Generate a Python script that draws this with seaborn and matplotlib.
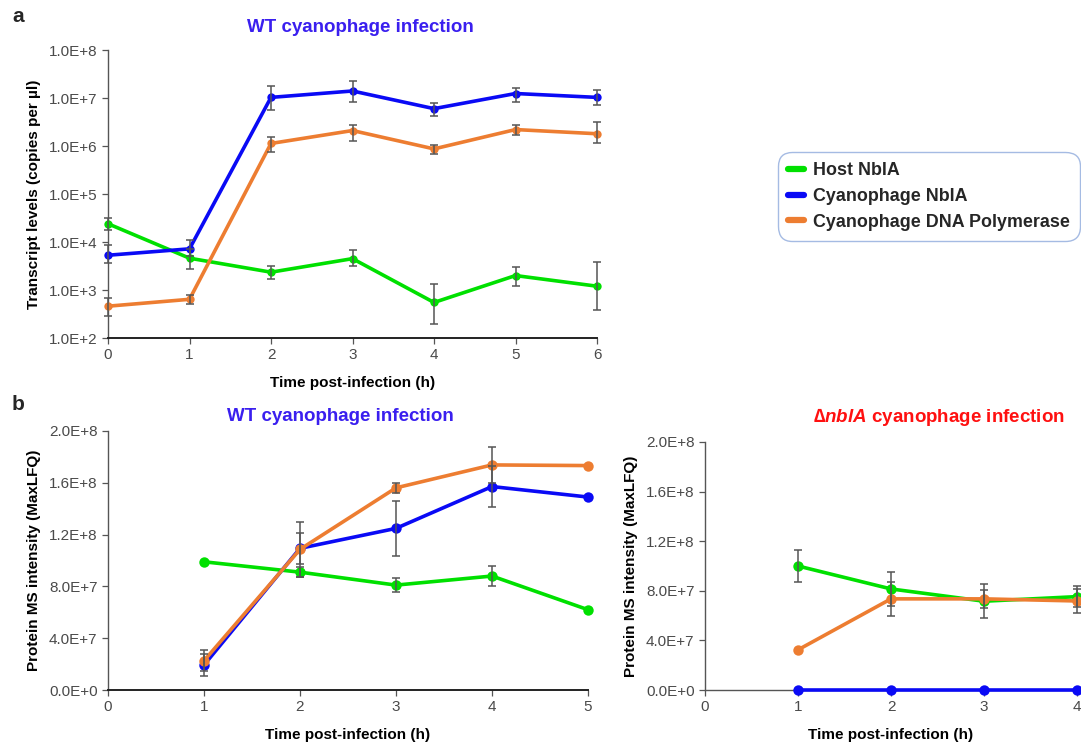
import numpy as np
import pandas as pd
import matplotlib
matplotlib.use("Agg")
import matplotlib.pyplot as plt
from matplotlib.lines import Line2D
import seaborn as sns

# ---------------- data ----------------
series = ["Host NblA", "Cyanophage NblA", "Cyanophage DNA Polymerase"]
colors = ["#00E000", "#0A0AF5", "#ED7D31"]

# panel a: transcript levels (copies per ul)
time_a = [0, 1, 2, 3, 4, 5, 6]
host_a = [2.4e4, 4.6e3, 2.35e3, 4.5e3, 5.5e2, 2.0e3, 1.2e3]
host_a_lo = [1.8e4, 2.8e3, 1.66e3, 3.1e3, 2.0e2, 1.2e3, 3.9e2]
host_a_hi = [3.2e4, 7.0e3, 3.2e3, 6.7e3, 1.35e3, 3.0e3, 3.8e3]
phage_a = [5.3e3, 7.2e3, 1.03e7, 1.4e7, 6.0e6, 1.24e7, 1.03e7]
phage_a_lo = [3.6e3, 5.0e3, 5.6e6, 8.3e6, 4.2e6, 8.3e6, 7.1e6]
phage_a_hi = [8.5e3, 1.1e4, 1.8e7, 2.25e7, 7.8e6, 1.65e7, 1.5e7]
pol_a = [4.6e2, 6.4e2, 1.13e6, 2.1e6, 8.7e5, 2.2e6, 1.8e6]
pol_a_lo = [2.9e2, 5.2e2, 7.6e5, 1.3e6, 6.8e5, 1.7e6, 1.13e6]
pol_a_hi = [6.8e2, 8.0e2, 1.56e6, 2.78e6, 1.07e6, 2.76e6, 3.1e6]
xticks_a = ["0", "1", "2", "3", "4", "5", "6"]
yticks_a = ["1.0E+2", "1.0E+3", "1.0E+4", "1.0E+5", "1.0E+6", "1.0E+7", "1.0E+8"]

# panel b left: WT protein MS intensity
time_b = [1, 2, 3, 4, 5]
host_b = [9.9e7, 9.1e7, 8.1e7, 8.8e7, 6.2e7]
host_b_sd = [np.nan, 0.4e7, 0.55e7, 0.77e7, np.nan]
phage_b = [1.93e7, 1.094e8, 1.248e8, 1.571e8, 1.49e8]
phage_b_sd = [0.88e7, 1.2e7, 2.15e7, 1.55e7, np.nan]
pol_b = [2.26e7, 1.086e8, 1.561e8, 1.738e8, 1.733e8]
pol_b_sd = [0.8e7, 2.1e7, 0.4e7, 1.4e7, np.nan]
xticks_b = ["0", "1", "2", "3", "4", "5"]

# panel b right: delta nblA protein MS intensity
time_c = [1, 2, 3, 4]
host_c = [1.0e8, 8.15e7, 7.16e7, 7.53e7]
host_c_sd = [1.27e7, 1.4e7, 1.38e7, 0.87e7]
phage_c = [0.0, 0.0, 0.0, 0.0]
phage_c_sd = [np.nan, np.nan, np.nan, np.nan]
pol_c = [3.24e7, 7.35e7, 7.35e7, 7.18e7]
pol_c_sd = [np.nan, 1.35e7, 0.75e7, 1.0e7]
xticks_c = ["0", "1", "2", "3", "4"]

yticks_b = ["0.0E+0", "4.0E+7", "8.0E+7", "1.2E+8", "1.6E+8", "2.0E+8"]

# ---------------- style ----------------
sns.set_theme(style="ticks")
plt.rcParams["font.family"] = ["Liberation Sans", "DejaVu Sans"]
plt.rcParams["mathtext.fontset"] = "custom"
plt.rcParams["mathtext.bfit"] = "Liberation Sans:italic:bold"
plt.rcParams["mathtext.it"] = "Liberation Sans:italic"
plt.rcParams["mathtext.bf"] = "Liberation Sans:bold"

W, H = 1081, 744
fig = plt.figure(figsize=(W / 100, H / 100), dpi=100)
fig.patch.set_facecolor("white")


def px_axes(x0, y0, x1, y1):
    return fig.add_axes([x0 / W, 1 - y1 / H, (x1 - x0) / W, (y1 - y0) / H])


TICK_COLOR = "#4a4a4a"


def style_axes(ax):
    sns.despine(ax=ax)
    ax.spines["left"].set_color("#555555")
    ax.spines["left"].set_linewidth(1.0)
    ax.spines["bottom"].set_color("#222222")
    ax.spines["bottom"].set_linewidth(1.4)
    ax.tick_params(axis="both", direction="out", length=4, width=0.9,
                   colors="#555555", labelcolor=TICK_COLOR, labelsize=11)
    ax.set_facecolor("white")
    ax.grid(False)


def draw_lines(ax, t, vals, errs, lw, ms):
    rows = []
    for s, v in zip(series, vals):
        for ti, vi in zip(t, v):
            rows.append({"time": ti, "value": vi, "series": s})
    df = pd.DataFrame(rows)
    sns.lineplot(data=df, x="time", y="value", hue="series", hue_order=series,
                 palette=colors, marker="o", markersize=ms, markeredgewidth=0,
                 linewidth=lw, estimator=None, legend=False, ax=ax,
                 clip_on=False, zorder=3)
    for v, e in zip(vals, errs):
        ax.errorbar(t, v, yerr=e, fmt="none", ecolor="#555555", elinewidth=1.1,
                    capsize=3.2, capthick=1.1, clip_on=False, zorder=5)


# ---------- panel a ----------
axa = px_axes(108, 50, 597, 338)
axa.set_yscale("log")
errs_a = [
    [np.array(host_a) - np.array(host_a_lo), np.array(host_a_hi) - np.array(host_a)],
    [np.array(phage_a) - np.array(phage_a_lo), np.array(phage_a_hi) - np.array(phage_a)],
    [np.array(pol_a) - np.array(pol_a_lo), np.array(pol_a_hi) - np.array(pol_a)],
]
draw_lines(axa, time_a, [host_a, phage_a, pol_a], errs_a, lw=2.6, ms=6)
axa.set_xlim(0, 6)
axa.set_ylim(1e2, 1e8)
axa.set_xticks(time_a)
axa.set_xticklabels(xticks_a)
axa.set_yticks([10.0 ** k for k in range(2, 9)])
axa.set_yticklabels(yticks_a)
axa.yaxis.set_minor_locator(matplotlib.ticker.NullLocator())
style_axes(axa)
axa.set_xlabel("Time post-infection (h)", fontsize=11, fontweight="bold",
               color="black", labelpad=10)
axa.set_ylabel("Transcript levels (copies per µl)", fontsize=11,
               fontweight="bold", color="black", labelpad=6)
fig.text(360 / W, 1 - 28 / H, "WT cyanophage infection", ha="center",
         va="center", fontsize=13.5, fontweight="bold", color="#3A1FEF")

# ---------- panel b left ----------
axb = px_axes(108, 431, 588, 690)
draw_lines(axb, time_b, [host_b, phage_b, pol_b],
           [host_b_sd, phage_b_sd, pol_b_sd], lw=2.6, ms=7.5)
axb.set_xlim(0, 5)
axb.set_ylim(0, 2e8)
axb.set_xticks(range(len(xticks_b)))
axb.set_xticklabels(xticks_b)
axb.set_yticks(np.linspace(0, 2e8, 6))
axb.set_yticklabels(yticks_b)
style_axes(axb)
axb.set_xlabel("Time post-infection (h)", fontsize=11, fontweight="bold",
               color="black", labelpad=10)
axb.set_ylabel("Protein MS intensity (MaxLFQ)", fontsize=11,
               fontweight="bold", color="black", labelpad=6)
fig.text(340 / W, 1 - 417 / H, "WT cyanophage infection", ha="center",
         va="center", fontsize=13.5, fontweight="bold", color="#3A1FEF")

# ---------- panel b right ----------
axc = px_axes(705, 442, 1077, 690)
draw_lines(axc, time_c, [host_c, phage_c, pol_c],
           [host_c_sd, phage_c_sd, pol_c_sd], lw=2.6, ms=7.5)
axc.set_xlim(0, 4)
axc.set_ylim(0, 2e8)
axc.set_xticks(range(len(xticks_c)))
axc.set_xticklabels(xticks_c)
axc.set_yticks(np.linspace(0, 2e8, 6))
axc.set_yticklabels(yticks_b)
style_axes(axc)
axc.spines["bottom"].set_color("#555555")
axc.spines["bottom"].set_linewidth(1.0)
axc.set_xlabel("Time post-infection (h)", fontsize=11, fontweight="bold",
               color="black", labelpad=10)
axc.set_ylabel("Protein MS intensity (MaxLFQ)", fontsize=11,
               fontweight="bold", color="black", labelpad=6)
fig.text(939 / W, 1 - 417 / H, r"∆$\mathbfit{nblA}$ cyanophage infection",
         ha="center", va="center", fontsize=13.5, fontweight="bold",
         color="#FF1010")

# ---------- panel letters ----------
fig.text(12 / W, 1 - 16 / H, "a", fontsize=15, fontweight="bold", va="center")
fig.text(12 / W, 1 - 405 / H, "b", fontsize=15, fontweight="bold", va="center")

# ---------- legend ----------
handles = [Line2D([0], [0], color=c, lw=4.5) for c in colors]
leg = fig.legend(handles, series, loc="upper left",
                 bbox_to_anchor=(778 / W, 1 - 152 / H),
                 prop={"weight": "bold", "size": 12.9}, frameon=True,
                 fancybox=True, edgecolor="#8FAADC", handlelength=0.9,
                 handletextpad=0.5, labelspacing=0.5, borderpad=0.55,
                 borderaxespad=0)
leg.get_frame().set_linewidth(1.0)
leg.get_frame().set_boxstyle("round", pad=0.0, rounding_size=0.8)

fig.savefig("out.png", dpi=100, facecolor="white")
